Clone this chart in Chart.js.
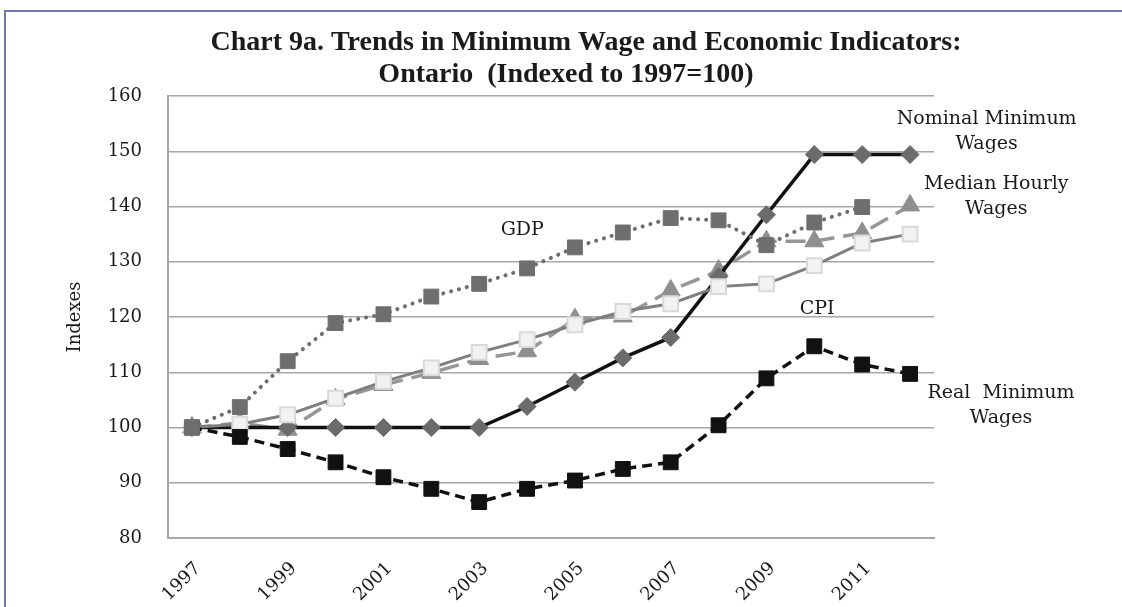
<!DOCTYPE html>
<html>
<head>
<meta charset="utf-8">
<title>Chart 9a</title>
<script src="https://cdn.jsdelivr.net/npm/chart.js@4.4.1/dist/chart.umd.min.js"></script>
<style>
  html, body { margin: 0; padding: 0; background: #fff; }
  #wrap { width: 1122px; height: 607px; position: relative; }
</style>
</head>
<body>
<div id="wrap"><canvas id="trendChart"></canvas></div>
<script>
const years = ['1997', '1998', '1999', '2000', '2001', '2002', '2003', '2004',
    '2005', '2006', '2007', '2008', '2009', '2010', '2011', '2012'];
const nominalMinWage = [100, 100, 100, 100, 100, 100, 100, 103.8, 108.2, 112.6, 116.3, 127.3, 138.5, 149.4, 149.4, 149.4];
const gdp = [100, 103.7, 112.0, 118.9, 120.5, 123.7, 126.0, 128.8, 132.6, 135.3, 137.9, 137.5, 133.0, 137.1, 139.9, null];
const cpi = [100, 100.6, 102.3, 105.3, 108.3, 110.8, 113.6, 115.9, 118.6, 121.0, 122.4, 125.5, 126.0, 129.3, 133.4, 135.0];
const medianHourlyWage = [100, 100.8, 99.6, 105.1, 107.7, 109.9, 112.4, 113.8, 119.6, 120.1, 124.8, 128.4, 133.7, 133.7, 135.2, 140.2];
const realMinWage = [100, 98.3, 96.1, 93.7, 91.0, 88.9, 86.5, 88.9, 90.4, 92.5, 93.7, 100.4, 108.9, 114.7, 111.4, 109.7];
const yTicks = [80, 90, 100, 110, 120, 130, 140, 150, 160];

document.addEventListener('DOMContentLoaded', function () {
    const serif = '"DejaVu Serif", "Liberation Serif", serif';

    // series names written next to the lines, placed in data units
    const notes = [
        { lines: ['Nominal Minimum', 'Wages'], at: 16.6, value: 155.9 },
        { lines: ['Median Hourly', 'Wages'], at: 16.8, value: 144.1 },
        { lines: ['GDP'], at: 6.9, value: 135.8 },
        { lines: ['CPI'], at: 13.06, value: 121.5 },
        { lines: ['Real  Minimum', 'Wages'], at: 16.9, value: 106.3 }
    ];

    const frame = {
        id: 'frame',
        beforeDraw(chart) {
            const ctx = chart.ctx;
            ctx.save();
            ctx.strokeStyle = '#7276b0';
            ctx.lineWidth = 2;
            ctx.beginPath();
            ctx.moveTo(chart.width, 11);
            ctx.lineTo(5, 11);
            ctx.lineTo(5, chart.height);
            ctx.stroke();

            // two-line title, each line centred on its own
            ctx.fillStyle = '#1a1a1a';
            ctx.font = 'bold 28px "Liberation Serif", serif';
            ctx.textAlign = 'center';
            ctx.textBaseline = 'alphabetic';
            ctx.fillText('Chart 9a. Trends in Minimum Wage and Economic Indicators:', 586, 50);
            ctx.fillText('Ontario  (Indexed to 1997=100)', 566, 82);
            ctx.restore();
        }
    };

    const seriesNotes = {
        id: 'seriesNotes',
        afterDraw(chart) {
            const ctx = chart.ctx;
            const x = chart.scales.x;
            const y = chart.scales.y;
            ctx.save();
            ctx.font = '19px ' + serif;
            ctx.fillStyle = '#1a1a1a';
            ctx.textAlign = 'center';
            ctx.textBaseline = 'middle';
            notes.forEach((n) => {
                const px = x.getPixelForValue(n.at);
                const py = y.getPixelForValue(n.value);
                n.lines.forEach((line, i) => ctx.fillText(line, px, py + i * 25));
            });
            ctx.restore();
        }
    };

    const ctx = document.getElementById('trendChart').getContext('2d');
    new Chart(ctx, {
        type: 'line',
        data: {
            labels: years,
            datasets: [{
                label: 'GDP',
                data: gdp,
                borderColor: '#6e6e6e',
                borderWidth: 4,
                borderDash: [0.1, 8],
                borderCapStyle: 'round',
                pointStyle: 'rect',
                pointRadius: 10.5,
                pointBackgroundColor: '#6e6e6e',
                pointBorderColor: '#6e6e6e',
                pointBorderWidth: 1
            }, {
                label: 'Real Minimum Wages',
                data: realMinWage,
                borderColor: '#111111',
                borderWidth: 3.5,
                borderDash: [10, 6],
                pointStyle: 'rect',
                pointRadius: 10.5,
                pointBackgroundColor: '#111111',
                pointBorderColor: '#111111',
                pointBorderWidth: 1
            }, {
                label: 'CPI',
                data: cpi,
                borderColor: '#7f7f7f',
                borderWidth: 3,
                pointStyle: 'rect',
                pointRadius: 10.5,
                pointBackgroundColor: '#f2f2f2',
                pointBorderColor: '#d9d9d9',
                pointBorderWidth: 2
            }, {
                label: 'Nominal Minimum Wages',
                data: nominalMinWage,
                borderColor: '#111111',
                borderWidth: 3.5,
                pointStyle: 'rectRot',
                pointRadius: 9,
                pointBackgroundColor: '#6b6b6b',
                pointBorderColor: '#6b6b6b',
                pointBorderWidth: 1
            }, {
                label: 'Median Hourly Wages',
                data: medianHourlyWage,
                borderColor: '#969696',
                borderWidth: 3.5,
                borderDash: [20, 9],
                pointStyle: 'triangle',
                pointRadius: 11,
                pointBackgroundColor: '#8f8f8f',
                pointBorderColor: '#8f8f8f',
                pointBorderWidth: 1
            }]
        },
        options: {
            responsive: true,
            maintainAspectRatio: false,
            animation: false,
            layout: { padding: { left: 5, right: 188, top: 96, bottom: 0 } },
            elements: { line: { tension: 0, fill: false } },
            plugins: {
                legend: { display: false },
                tooltip: { enabled: false },
                title: { display: false }
            },
            scales: {
                x: {
                    offset: true,
                    grid: { display: false, drawTicks: false },
                    border: { display: true, color: '#a6a6a6', width: 2 },
                    afterFit(scale) { scale.height = 69; },
                    ticks: {
                        autoSkip: false,
                        minRotation: 45,
                        maxRotation: 45,
                        padding: 20,
                        labelOffset: 6,
                        color: '#1a1a1a',
                        font: { family: serif, size: 18 },
                        callback: function (value, index) {
                            return index % 2 === 0 ? years[index] : '';
                        }
                    }
                },
                y: {
                    min: yTicks[0],
                    max: yTicks[yTicks.length - 1],
                    afterBuildTicks(scale) {
                        scale.ticks = yTicks.map((v) => ({ value: v }));
                    },
                    afterFit(scale) { scale.width = 163; },
                    grid: { color: '#a6a6a6', lineWidth: 1.5, drawTicks: false },
                    border: { display: true, color: '#a6a6a6', width: 2 },
                    ticks: {
                        padding: 26,
                        color: '#1a1a1a',
                        font: { family: serif, size: 18 }
                    },
                    title: {
                        display: true,
                        text: 'Indexes',
                        color: '#1a1a1a',
                        font: { family: serif, size: 18 },
                        padding: { top: 60, bottom: 0 }
                    }
                }
            }
        },
        plugins: [frame, seriesNotes]
    });
});
</script>
</body>
</html>
